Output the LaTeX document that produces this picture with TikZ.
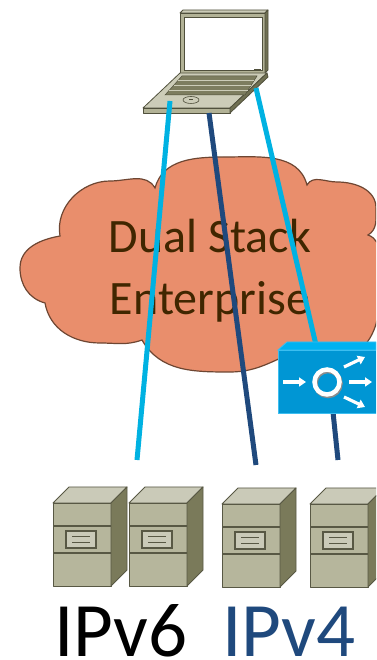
\documentclass[tikz,border=0pt]{standalone}
\usepackage{fontspec}
\setmainfont{Carlito}
\usetikzlibrary{arrows.meta,calc}

\definecolor{cloudfill}{RGB}{233,142,108}
\definecolor{cloudline}{RGB}{110,70,50}
\definecolor{cloudtext}{RGB}{64,38,0}
\definecolor{vsix}{RGB}{0,178,226}
\definecolor{vfour}{RGB}{31,73,125}
\definecolor{lapface}{RGB}{178,178,150}
\definecolor{laptop}{RGB}{204,204,184}
\definecolor{lapside}{RGB}{112,112,82}
\definecolor{lapedge}{RGB}{80,80,60}
\definecolor{lapkeys}{RGB}{125,125,95}
\definecolor{rtfront}{RGB}{0,150,212}
\definecolor{rttop}{RGB}{0,178,240}
\definecolor{rtedge}{RGB}{60,190,240}
\definecolor{srvfront}{RGB}{182,182,156}
\definecolor{srvtop}{RGB}{202,202,184}
\definecolor{srvside}{RGB}{122,122,90}
\definecolor{srvedge}{RGB}{88,88,68}

\tikzset{
  link6/.style={draw=vsix,line width=5pt},
  link4/.style={draw=vfour,line width=5pt},
  lapstroke/.style={draw=lapedge,line width=0.8pt,line join=round},
  srvstroke/.style={draw=srvedge,line width=0.9pt,line join=round},
  rtarrow/.style={draw=white,line width=3.2pt,-{Triangle[width=9pt,length=7pt]}},
  bigtext/.style={font=\fontsize{48}{50}\selectfont,text=cloudtext,inner sep=0pt},
  proto/.style={font=\fontsize{77}{80}\selectfont,inner sep=0pt},
  pics/server/.style={code={
    \path[fill=srvfront,srvstroke] (0,0) rectangle (58,83);
    \path[fill=srvtop,srvstroke] (0,83) -- (16,99) -- (74,99) -- (58,83) -- cycle;
    \path[fill=srvside,srvstroke] (58,0) -- (74,16) -- (74,99) -- (58,83) -- cycle;
    \draw[srvedge,line width=1.2pt] (0,60) -- (58,60) (0,33) -- (58,33);
    \path[fill=srvtop,draw=srvedge,line width=1.4pt] (13,38) rectangle (43,55);
    \draw[srvedge,line width=1pt] (19,49.5) -- (37,49.5) (19,43.5) -- (37,43.5);
  }}
}

\begin{document}
\begin{tikzpicture}[x=1pt,y=1pt]
\clip (0,0) rectangle (376,660);
\fill[white] (0,0) rectangle (376,660);

% ---- enterprise cloud ----
\path[fill=cloudfill,draw=cloudline,line width=1.2pt]
  (45,357) to[out=165,in=270] (20,392) to[out=90,in=190] (60,424)
  to[out=100,in=180] (110,479) to[out=0,in=120] (155,472)
  to[out=75,in=180] (225,503) to[out=0,in=105] (307,475)
  to[out=60,in=180] (337,478) to[out=0,in=90] (376,452) to[out=270,in=30] (368,425)
  to[out=-20,in=90] (378,380) to[out=270,in=60] (370,322) to[out=240,in=0] (300,310)
  to[out=200,in=0] (230,288) to[out=180,in=-60] (142,320)
  to[out=200,in=0] (100,317) to[out=180,in=-80] (45,357) -- cycle;
\node[bigtext,anchor=base] (cloudA) at (210,407) {Dual Stack};
\node[bigtext,anchor=base] (cloudB) at (210,345) {Enterprise};

% ---- laptop ----
\path[fill=lapface,lapstroke] (180,587) rectangle (265,647);
\path[fill=laptop,lapstroke] (180,647) -- (183,650) -- (268,650) -- (265,647) -- cycle;
\path[fill=lapside,lapstroke] (265,647) -- (268,650) -- (268,590) -- (265,587) -- cycle;
\path[fill=white,draw=lapedge,line width=0.5pt] (184,590) rectangle (262,643);
\fill[lapedge] (254,589) rectangle (261,590.5);
\path[fill=laptop,lapstroke] (143,552) -- (230,552) -- (267,587) -- (180,587) -- cycle;
\path[fill=lapface,lapstroke] (143,552) -- (230,552) -- (230,547) -- (143,547) -- cycle;
\path[fill=lapside,lapstroke] (230,552) -- (267,587) -- (268,583) -- (230,547) -- cycle;
\path[fill=lapkeys,draw=lapedge,line width=0.5pt] (182,584) -- (257,584) -- (245,565) -- (165,565) -- cycle;
\draw[laptop,line width=1pt] (178,579.5) -- (254.2,579.5) (173.5,574.5) -- (251,574.5) (169,569.5) -- (247.8,569.5);
\draw[lapedge,line width=0.6pt] (191,560) ellipse (8 and 3.5);
\draw[lapedge,line width=0.6pt] (189,560.5) -- (193,560.5);

% ---- end points of the links ----
\coordinate (lap6a) at (170,559);
\coordinate (lap4) at (209,547);
\coordinate (lap6b) at (256,572);
\coordinate (srv6) at (137,200);
\coordinate (srv4a) at (256,195);
\coordinate (srv4b) at (338,200);
\coordinate (rtin) at (316,315);
\coordinate (rtout) at (333,248);

\draw[link6] (lap6a) -- (srv6);
\draw[link4] (lap4) -- (srv4a);
\draw[link6] (lap6b) -- (rtin);
\draw[link4] (rtout) -- (srv4b);

% ---- servers ----
\pic at (53,74) {server};
\pic at (129,74) {server};
\pic at (222,73) {server};
\pic at (310,73) {server};

% ---- load balancer ----
\path[fill=rtfront,draw=rtedge,line width=0.8pt] (278,247) rectangle (376,310);
\path[fill=rttop,draw=rtedge,line width=0.8pt] (278,310) -- (287,318) -- (376,318) -- (376,310) -- cycle;
\draw[black!45,line width=4.5pt] (328,276.5) circle (12.5);
\draw[white,line width=4.5pt] (327,278) circle (12.5);
\draw[rtarrow] (283,278) -- (306,278);
\draw[rtarrow] (349,278) -- (372,278);
\draw[rtarrow] (344,293) -- (365,303);
\draw[rtarrow] (344,263) -- (365,253);

% ---- protocol labels ----
\node[proto,anchor=base,text=black] (lab6) at (120.5,3.5) {IPv6};
\node[proto,anchor=base,text=vfour] (lab4) at (289,3.5) {IPv4};
\end{tikzpicture}
\end{document}
